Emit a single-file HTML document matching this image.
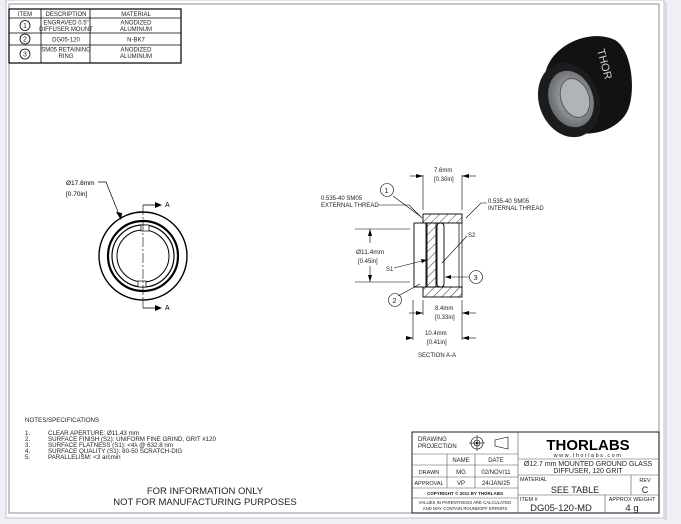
<!DOCTYPE html>
<html><head><meta charset="utf-8"><style>
body{margin:0;width:681px;height:524px;background:#eef0f5;overflow:hidden}
svg{display:block;font-family:"Liberation Sans",sans-serif}
</style></head><body>
<svg width="681" height="524" viewBox="0 0 681 524">
<defs>
<pattern id="h" width="6" height="6" patternUnits="userSpaceOnUse" patternTransform="rotate(45)"><line x1="0" y1="0" x2="0" y2="6" stroke="#000" stroke-width="0.8"/></pattern>
<radialGradient id="g" cx="0.55" cy="0.5" r="0.5"><stop offset="0" stop-color="#c5c8ca"/><stop offset="1" stop-color="#6d7175"/></radialGradient>
</defs>
<rect x="6" y="0" width="658" height="518" fill="#fff" stroke="#bfc3c8"/>
<rect x="664" y="2" width="3" height="518" fill="#d8dbe0"/>
<rect x="9" y="4" width="650" height="509" fill="none" stroke="#777" stroke-width="0.8"/>
<!-- item table -->
<g stroke="#000" fill="none" stroke-width="0.8">
<rect x="9" y="9" width="172" height="54" stroke-width="1.2"/>
<line x1="9" y1="18" x2="181" y2="18"/><line x1="9" y1="33" x2="181" y2="33"/><line x1="9" y1="45" x2="181" y2="45"/>
<line x1="41" y1="9" x2="41" y2="63"/><line x1="90" y1="9" x2="90" y2="63"/>
<circle cx="25" cy="25.5" r="5"/><circle cx="25" cy="39" r="5"/><circle cx="25" cy="54" r="5"/>
</g>
<g font-size="6" text-anchor="middle" fill="#222">
<text x="25" y="16">ITEM</text><text x="66" y="16">DESCRIPTION</text><text x="136" y="16">MATERIAL</text>
<text x="25" y="28" font-size="7">1</text><text x="25" y="41.5" font-size="7">2</text><text x="25" y="56.5" font-size="7">3</text>
<text x="66" y="24.5">ENGRAVED 0.5"</text><text x="66" y="31">DIFFUSER MOUNT</text>
<text x="136" y="24.5">ANODIZED</text><text x="136" y="31">ALUMINUM</text>
<text x="66" y="41.5">DG05-120</text><text x="136" y="41.5">N-BK7</text>
<text x="66" y="51.5">SM05 RETAINING</text><text x="66" y="58">RING</text>
<text x="136" y="51.5">ANODIZED</text><text x="136" y="58">ALUMINUM</text>
</g>
<!-- 3D render -->
<g>
<path d="M545,75 C550,45 590,28 615,40 C632,50 636,90 628,110 C618,132 585,140 563,128 C542,115 540,95 545,75 Z" fill="#121212"/>
<ellipse cx="569" cy="100" rx="30" ry="38" fill="#1c1c1c" transform="rotate(-20 569 100)"/>
<ellipse cx="571" cy="99" rx="22" ry="29" fill="url(#g)" transform="rotate(-20 571 99)"/>
<ellipse cx="575" cy="98" rx="14" ry="20" fill="#b0b4b7" stroke="#555" transform="rotate(-20 575 98)"/>
<text x="597" y="50" fill="#cfcfcf" font-size="11" transform="rotate(75 597 50)">THOR</text>
</g>
<!-- front view -->
<g fill="none" stroke="#000">
<circle cx="143" cy="256" r="44" stroke-width="1.4"/>
<circle cx="143" cy="256" r="35" stroke-width="2.2"/>
<circle cx="143" cy="256" r="31" stroke-width="1.2"/>
<circle cx="143" cy="256" r="26" stroke-width="1"/>
<rect x="141" y="225" width="8" height="6" fill="#fff" stroke-width="0.7"/>
<rect x="138" y="281" width="8" height="6" fill="#fff" stroke-width="0.7"/>
<line x1="143" y1="205" x2="143" y2="308" stroke-width="0.6" stroke-dasharray="10 2 2 2"/>
<line x1="143" y1="205" x2="157" y2="205" stroke-width="0.8"/><line x1="143" y1="308" x2="157" y2="308" stroke-width="0.8"/>
<polyline points="98,182 106,182 120,217" stroke-width="0.7"/>
</g>
<polygon points="162,205 155,202 155,208" fill="#000"/><polygon points="162,308 155,305 155,311" fill="#000"/>
<polygon points="121,220 116,212 122,213" fill="#000"/>
<text x="165" y="207" font-size="7">A</text><text x="165" y="310" font-size="7">A</text>
<text x="66" y="185" font-size="6.5">Ø17.8mm</text><text x="66" y="196" font-size="6.5">[0.70in]</text>
<!-- section -->
<g stroke="#000" stroke-width="0.9">
<rect x="423" y="214" width="39" height="9" fill="url(#h)"/>
<rect x="423" y="287" width="39" height="10" fill="url(#h)"/>
<rect x="427" y="223" width="9" height="64" fill="url(#h)"/>
<rect x="414" y="223" width="12" height="64" fill="#fff"/>
<rect x="437" y="223" width="7" height="64" rx="3" fill="#fff"/>
<line x1="462" y1="223" x2="462" y2="287" stroke-width="0.7"/>
<line x1="459" y1="223" x2="459" y2="287" stroke-width="0.7"/>
</g>
<g stroke="#000" stroke-width="0.6" fill="none">
<line x1="423" y1="175" x2="423" y2="210"/><line x1="462" y1="175" x2="462" y2="210"/>
<line x1="410" y1="176" x2="423" y2="176"/><line x1="462" y1="176" x2="476" y2="176"/>
<line x1="413" y1="300" x2="413" y2="340"/><line x1="423" y1="300" x2="423" y2="315"/><line x1="462" y1="300" x2="462" y2="340"/>
<line x1="409" y1="313" x2="423" y2="313"/><line x1="462" y1="313" x2="476" y2="313"/>
<line x1="408" y1="338" x2="413" y2="338"/><line x1="462" y1="338" x2="476" y2="338"/>
<line x1="355" y1="229" x2="410" y2="229"/><line x1="355" y1="282" x2="410" y2="282"/>
<line x1="370" y1="229" x2="370" y2="243"/><line x1="370" y1="266" x2="370" y2="282"/>
<polyline points="378,205 409,205 422,218"/>
<polyline points="487,203 481,203 466,218"/>
<line x1="393" y1="196" x2="420" y2="216"/>
<line x1="398" y1="296" x2="420" y2="284"/>
<line x1="467" y1="236" x2="442" y2="263"/>
<line x1="394" y1="268" x2="426" y2="260"/>
<line x1="445" y1="277" x2="469" y2="277"/>
<circle cx="387" cy="190" r="6.5"/><circle cx="395" cy="300" r="6.5"/><circle cx="476" cy="277" r="6.5"/>
</g>
<g fill="#000">
<polygon points="423,176 416,174 416,178"/><polygon points="462,176 469,174 469,178"/>
<polygon points="423,313 416,311 416,315"/><polygon points="462,313 469,311 469,315"/>
<polygon points="413,338 406,336 406,340"/><polygon points="462,338 469,336 469,340"/>
<polygon points="370,229 368,236 372,236"/><polygon points="370,282 368,275 372,275"/>
<polygon points="445,277 451,275 451,279"/><polygon points="427,260 421,259 422,263"/>
</g>
<g font-size="6" fill="#222">
<text x="434" y="172">7.6mm</text><text x="434" y="181">[0.30in]</text>
<text x="321" y="200">0.535-40 SM05</text><text x="321" y="207">EXTERNAL THREAD</text>
<text x="488" y="203">0.535-40 SM05</text><text x="488" y="210">INTERNAL THREAD</text>
<text x="468" y="237">S2</text><text x="386" y="271">S1</text>
<text x="356" y="254" font-size="6.5">Ø11.4mm</text><text x="358" y="263">[0.45in]</text>
<text x="435" y="310">8.4mm</text><text x="435" y="319">[0.33in]</text>
<text x="425" y="335">10.4mm</text><text x="427" y="344">[0.41in]</text>
<text x="418" y="357">SECTION A-A</text>
<text x="384.5" y="193" font-size="7.5">1</text><text x="392.5" y="303" font-size="7.5">2</text><text x="473.5" y="280" font-size="7.5">3</text>
</g>
<!-- notes -->
<g font-size="6.2" fill="#222">
<text x="25" y="422">NOTES/SPECIFICATIONS</text>
<text x="25" y="435">1.</text><text x="48" y="435">CLEAR APERTURE: Ø11.43 mm</text>
<text x="25" y="441">2.</text><text x="48" y="441">SURFACE FINISH (S2): UNIFORM FINE GRIND, GRIT #120</text>
<text x="25" y="447">3.</text><text x="48" y="447">SURFACE FLATNESS (S1): &lt;4λ @ 632.8 nm</text>
<text x="25" y="453">4.</text><text x="48" y="453">SURFACE QUALITY (S1): 80-50 SCRATCH-DIG</text>
<text x="25" y="459">5.</text><text x="48" y="459">PARALLELISM: &lt;3 arcmin</text>
</g>
<g font-size="9.5" fill="#222" text-anchor="middle">
<text x="205" y="494">FOR INFORMATION ONLY</text><text x="205" y="505">NOT FOR MANUFACTURING PURPOSES</text>
</g>
<!-- title block -->
<g stroke="#555" stroke-width="0.6" fill="none">
<rect x="412" y="432" width="247" height="81" stroke="#000" stroke-width="0.9"/>
<line x1="518" y1="432" x2="518" y2="513"/>
<line x1="412" y1="454" x2="518" y2="454"/><line x1="412" y1="465" x2="518" y2="465"/>
<line x1="412" y1="477" x2="518" y2="477"/><line x1="412" y1="488" x2="518" y2="488"/><line x1="412" y1="498" x2="518" y2="498"/>
<line x1="447" y1="454" x2="447" y2="488"/><line x1="475" y1="454" x2="475" y2="488"/>
<line x1="518" y1="459" x2="659" y2="459"/><line x1="518" y1="475" x2="659" y2="475"/><line x1="518" y1="495" x2="659" y2="495"/>
<line x1="631" y1="475" x2="631" y2="495"/><line x1="605" y1="495" x2="605" y2="513"/>
<circle cx="477" cy="443" r="6" stroke="#000"/><circle cx="477" cy="443" r="3" stroke="#000"/><circle cx="477" cy="443" r="1" fill="#000"/>
<line x1="469" y1="443" x2="485" y2="443" stroke="#000"/><line x1="477" y1="435" x2="477" y2="451" stroke="#000"/>
<polygon points="495,440 508,437 508,449 495,446" stroke="#000"/>
</g>
<g fill="#222" font-size="6" text-anchor="middle">
<text x="418" y="441" text-anchor="start">DRAWING</text><text x="418" y="448" text-anchor="start">PROJECTION</text>
<text x="461" y="462">NAME</text><text x="496" y="462">DATE</text>
<text x="429" y="474" font-size="5.5">DRAWN</text><text x="461" y="474">MG</text><text x="496" y="474">02/NOV/11</text>
<text x="429" y="485" font-size="5.5">APPROVAL</text><text x="461" y="485">VP</text><text x="496" y="485">24/JAN/25</text>
<text x="465" y="495" font-size="4.5" font-weight="bold">COPYRIGHT © 2011 BY THORLABS</text>
<text x="465" y="504" font-size="4.3">VALUES IN PARENTHESIS ARE CALCULATED</text><text x="465" y="510" font-size="4.3">AND MAY CONTAIN ROUNDOFF ERRORS</text>
<text x="588" y="450" font-size="15" font-weight="bold" fill="#000">THORLABS</text>
<text x="588" y="457" font-size="5.5" letter-spacing="1.5">www.thorlabs.com</text>
<text x="588" y="466" font-size="7">Ø12.7 mm MOUNTED GROUND GLASS</text><text x="588" y="473" font-size="7">DIFFUSER, 120 GRIT</text>
<text x="520" y="481" text-anchor="start" font-size="5.5">MATERIAL</text>
<text x="575" y="493" font-size="9">SEE TABLE</text>
<text x="645" y="482" font-size="5.5">REV</text><text x="645" y="493" font-size="9">C</text>
<text x="520" y="501" text-anchor="start" font-size="5.5">ITEM #</text>
<text x="561" y="511" font-size="9.5">DG05-120-MD</text>
<text x="632" y="501" font-size="5.5">APPROX WEIGHT</text><text x="632" y="511" font-size="9.5">4 g</text>
</g>
</svg>
</body></html>
